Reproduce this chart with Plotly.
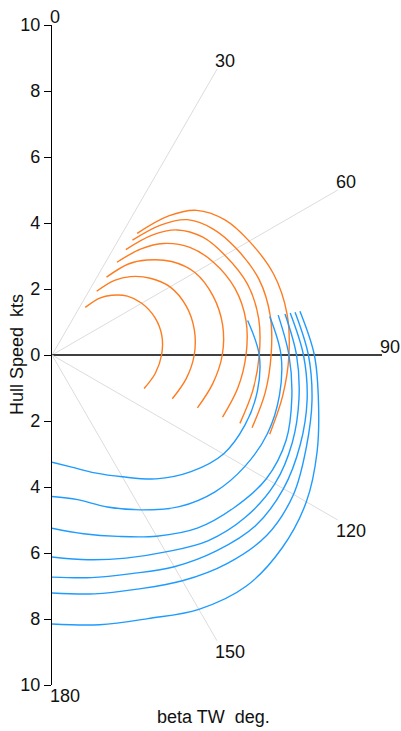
import numpy as np
import plotly.graph_objects as go

# ---------------- data ----------------
# upwind (orange) curves: boat speed (kts) vs true wind angle (deg)
up_angles = [35, 40, 45, 52, 60, 70, 80, 90, 100, 110]
up_1 = [1.76, 2.25, 2.56, 2.90, 3.14, 3.32, 3.38, 3.32, 3.18, 2.97]
up_2 = [2.36, 2.95, 3.36, 3.78, 4.13, 4.33, 4.38, 4.31, 4.13, 3.88]
up_3 = [2.88, 3.60, 4.07, 4.60, 5.00, 5.20, 5.25, 5.16, 4.95, 4.69]
up_4 = [3.43, 4.20, 4.78, 5.30, 5.64, 5.90, 5.97, 5.88, 5.72, 5.50]
up_5 = [3.90, 4.75, 5.36, 5.80, 6.05, 6.30, 6.36, 6.28, 6.18, 6.06]
up_6 = [4.25, 5.15, 5.80, 6.20, 6.45, 6.68, 6.72, 6.64, 6.56, 6.45]
up_7 = [4.50, 5.50, 6.20, 6.65, 6.90, 7.15, 7.23, 7.18, 7.10, 7.02]

# downwind (blue) curves
down_angles = [80, 90, 100, 110, 120, 130, 140, 150, 160, 170, 180]
down_1 = [6.02, 6.28, 6.32, 6.22, 6.00, 5.50, 4.90, 4.26, 3.80, 3.45, 3.25]
down_2 = [6.70, 6.94, 7.00, 6.95, 6.75, 6.45, 6.00, 5.42, 4.90, 4.45, 4.29]
down_3 = [6.96, 7.18, 7.38, 7.55, 7.50, 7.20, 6.85, 6.34, 5.85, 5.50, 5.25]
down_4 = [7.17, 7.41, 7.60, 7.75, 7.80, 7.65, 7.35, 6.89, 6.55, 6.30, 6.12]
down_5 = [7.33, 7.62, 7.85, 8.00, 8.10, 8.05, 7.75, 7.41, 7.05, 6.85, 6.73]
down_6 = [7.48, 7.77, 8.00, 8.20, 8.45, 8.50, 8.25, 7.90, 7.55, 7.35, 7.21]
down_7 = [7.63, 7.95, 8.20, 8.55, 8.90, 9.10, 9.15, 8.90, 8.50, 8.30, 8.15]

# angular grid
grid_angles = [0, 30, 60, 90, 120, 150, 180]
grid_labels = ["0", "30", "60", "90", "120", "150", "180"]
grid_radius = 10

# speed axis ticks
speed_ticks = [-10, -8, -6, -4, -2, 0, 2, 4, 6, 8, 10]
speed_tick_text = ["10", "8", "6", "4", "2", "0", "2", "4", "6", "8", "10"]

ORANGE = "#ff7b1f"
BLUE = "#1f9bff"
FONT = "Liberation Sans, Arial, sans-serif"


def to_xy(angles, speeds):
    a = np.radians(np.asarray(angles, dtype=float))
    r = np.asarray(speeds, dtype=float)
    return r * np.sin(a), r * np.cos(a)


fig = go.Figure()

# radial grid lines
for ang in grid_angles:
    if ang in (0, 180):
        continue
    gx, gy = to_xy([ang, ang], [0, grid_radius])
    fig.add_trace(go.Scatter(
        x=gx, y=gy, mode="lines",
        line=dict(color="#000000" if ang == 90 else "#dcdcdc",
                  width=1.4 if ang == 90 else 1),
        hoverinfo="skip", showlegend=False))

for sp in [up_1, up_2, up_3, up_4, up_5, up_6, up_7]:
    cx, cy = to_xy(up_angles, sp)
    fig.add_trace(go.Scatter(x=cx, y=cy, mode="lines",
                             line=dict(color=ORANGE, width=1.4, shape="spline", smoothing=1.0),
                             hoverinfo="skip", showlegend=False))

for sp in [down_1, down_2, down_3, down_4, down_5, down_6, down_7]:
    cx, cy = to_xy(down_angles, sp)
    fig.add_trace(go.Scatter(x=cx, y=cy, mode="lines",
                             line=dict(color=BLUE, width=1.4, shape="spline", smoothing=1.0),
                             hoverinfo="skip", showlegend=False))

annotations = []
for ang, lab in zip(grid_angles, grid_labels):
    lx, ly = to_xy([ang], [grid_radius])
    upper = ang <= 90
    annotations.append(dict(
        x=float(lx[0]), y=float(ly[0]), xref="x", yref="y", text=lab,
        showarrow=False, xanchor="left",
        yanchor="bottom" if upper else "top",
        xshift=-3, yshift=-3 if upper else 0,
        font=dict(size=18, color="#111111", family=FONT),
        borderpad=0))

annotations.append(dict(
    x=(17 - 52) / 349, y=0.5, xref="paper", yref="paper",
    text="Hull Speed\u00a0 kts", textangle=-90, showarrow=False,
    xanchor="center", yanchor="middle",
    font=dict(size=18, color="#111111", family=FONT)))
annotations.append(dict(
    x=4.88, y=-0.048, xref="x", yref="paper",
    text="beta TW\u00a0 deg.", showarrow=False,
    xanchor="center", yanchor="middle",
    font=dict(size=18, color="#111111", family=FONT)))

fig.update_layout(
    width=401, height=731,
    margin=dict(l=52, r=0, t=25, b=46),
    paper_bgcolor="white", plot_bgcolor="white",
    showlegend=False,
    font=dict(family=FONT, size=18, color="#111111"),
    xaxis=dict(range=[0, 349 / 33], visible=False, fixedrange=True),
    yaxis=dict(range=[-10, 10], tickvals=speed_ticks, ticktext=speed_tick_text,
               showline=True, linecolor="#000000", linewidth=1.2,
               ticks="outside", ticklen=7, tickcolor="#000000", tickwidth=1,
               showgrid=False, zeroline=False, fixedrange=True,
               tickfont=dict(size=18, color="#111111", family=FONT)),
    annotations=annotations,
)

fig.write_html(
    "out.html",
    config={"displayModeBar": False},
    post_script="document.body.style.margin='0';document.body.style.overflow='hidden';",
)
